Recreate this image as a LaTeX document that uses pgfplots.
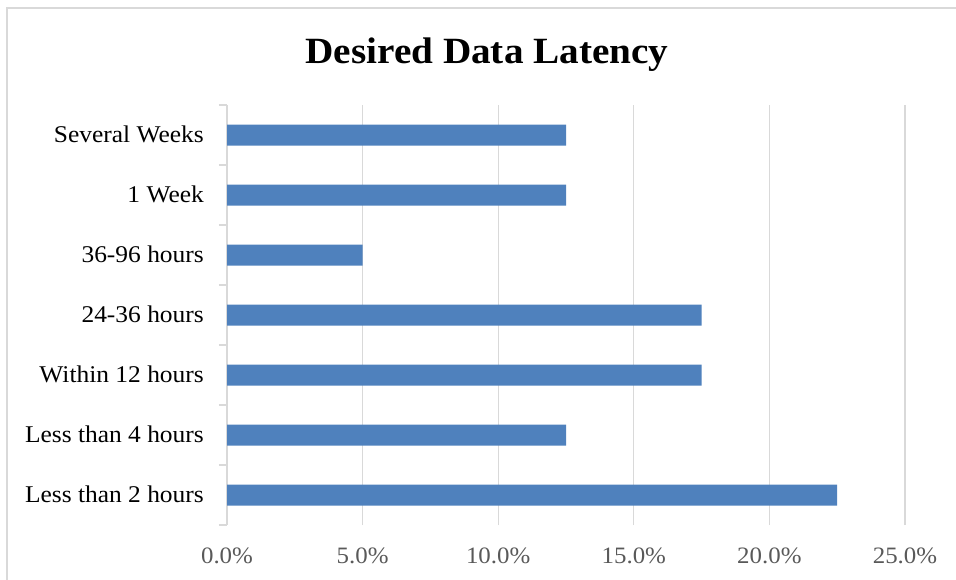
\documentclass[border=0pt]{standalone}
\usepackage{pgfplots}
\pgfplotsset{compat=1.18}
\usepackage{fontspec}
\setmainfont{Liberation Serif}[FakeStretch=1.06]
\definecolor{barblue}{HTML}{4F81BD}
\definecolor{gridgray}{HTML}{D9D9D9}
\definecolor{ticktext}{HTML}{595959}
\begin{document}
\begin{tikzpicture}[x=1pt,y=1pt]
\useasboundingbox (0,0) rectangle (956,579);
\draw[gridgray, line width=1.3pt] (7,-10) rectangle (970,571);
\node[anchor=base, inner sep=0pt, font=\fontsize{37}{44}\selectfont\bfseries] at (487,515) {Desired Data Latency};
\begin{axis}[at={(227pt,54pt)}, anchor=south west, scale only axis,
  width=678pt, height=420pt,
  xmin=0, xmax=25, ymin=0.5, ymax=7.5,
  xbar, bar width=21pt,
  xtick={0,5,...,25},
  xticklabels={0.0\%,5.0\%,10.0\%,15.0\%,20.0\%,25.0\%},
  ytick={1,...,7},
  yticklabels={Less than 2 hours, Less than 4 hours, Within 12 hours, 24-36 hours, 36-96 hours, 1 Week, Several Weeks},
  xmajorgrids, major grid style={gridgray, line width=1.3pt},
  axis x line*=bottom, axis y line*=left,
  x axis line style={draw=none},
  y axis line style={gridgray, line width=1.3pt, -},
  major tick length=0pt,
  xticklabel style={anchor=base, inner sep=0pt, yshift=-38pt, text=ticktext, font=\fontsize{23.5}{28}\selectfont},
  yticklabel style={anchor=base east, inner sep=0pt, xshift=-23pt, yshift=-7pt, text=black, font=\fontsize{24}{29}\selectfont},
  extra y ticks={0.5,1.5,...,7.5},
  extra y tick labels={},
  extra y tick style={major tick length=8pt, tick align=outside, tick style={gridgray, line width=1.3pt}, ymajorgrids=false},
]
\addplot[draw=none, fill=barblue] coordinates {(22.5,1) (12.5,2) (17.5,3) (17.5,4) (5,5) (12.5,6) (12.5,7)};
\end{axis}
\end{tikzpicture}
\end{document}
